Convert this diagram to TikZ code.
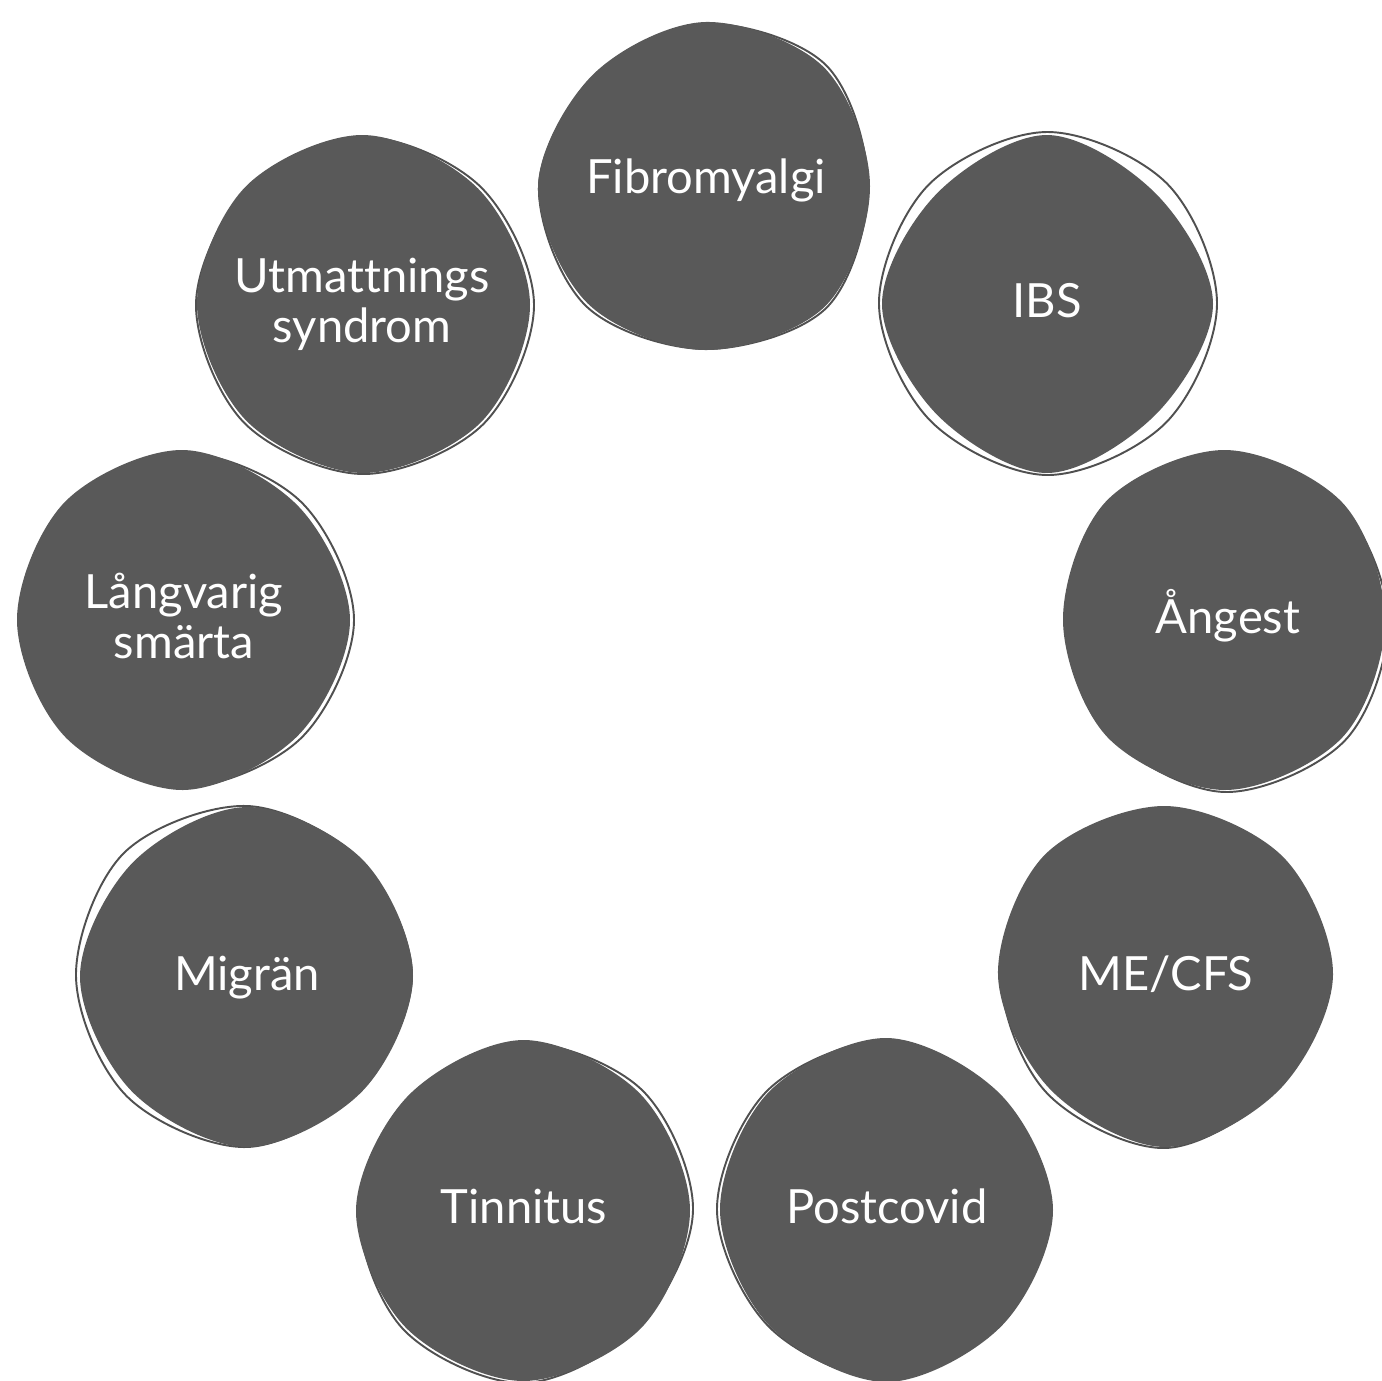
\documentclass[tikz,border=0pt]{standalone}
\usepackage{fontspec}
\setmainfont{Lato}[Ligatures=NoCommon]
\definecolor{blobgray}{HTML}{595959}
\definecolor{blobedge}{HTML}{505050}
\tikzset{
  blobfill/.style={fill=blobgray},
  blobline/.style={draw=blobedge, line width=0.55pt},
  blobtext/.style={text=white, font=\fontsize{13.4pt}{14.2pt}\selectfont,
    align=center, anchor=base, inner sep=0pt},
  rounded blob/.style={smooth cycle, tension=0.56},
}
\begin{document}
\begin{tikzpicture}[x=0.01cm,y=-0.01cm]
\useasboundingbox (0,0) rectangle (1381,1381);

% Fibromyalgi
\begin{scope}[shift={(705,186)}]
  \draw[blobline] plot[rounded blob] coordinates {(0:163) (45:172) (90:163) (135:169) (180:166) (225:156) (270:162) (315:171)};
  \fill[blobfill] plot[rounded blob] coordinates {(0:165) (45:170) (90:164) (135:166) (180:167) (225:158) (270:164) (315:168)};
\end{scope}
% IBS
\begin{scope}[shift={(1047,304)}]
  \draw[blobline] plot[rounded blob] coordinates {(0:170) (45:168) (90:171) (135:165) (180:168) (225:168) (270:172) (315:170)};
  \fill[blobfill] plot[rounded blob] coordinates {(0:166) (45:155) (90:169) (135:156) (180:165) (225:156) (270:169) (315:155)};
\end{scope}
% Angest
\begin{scope}[shift={(1225,620)}]
  \draw[blobline] plot[rounded blob] coordinates {(0:163) (45:170) (90:172) (135:163) (180:159) (225:165) (270:167) (315:163)};
  \fill[blobfill] plot[rounded blob] coordinates {(0:160) (45:166) (90:170) (135:166) (180:162) (225:168) (270:170) (315:166)};
\end{scope}
% ME/CFS
\begin{scope}[shift={(1165,975)}]
  \draw[blobline] plot[rounded blob] coordinates {(0:165) (45:159) (90:173) (135:167) (180:164) (225:167) (270:166) (315:164)};
  \fill[blobfill] plot[rounded blob] coordinates {(0:168) (45:162) (90:172) (135:162) (180:167) (225:170) (270:169) (315:167)};
\end{scope}
% Postcovid
\begin{scope}[shift={(887,1210)}]
  \draw[blobline] plot[rounded blob] coordinates {(0:163) (45:160) (90:169) (135:166) (180:170) (225:169) (270:169) (315:159)};
  \fill[blobfill] plot[rounded blob] coordinates {(0:166) (45:163) (90:172) (135:165) (180:167) (225:167) (270:172) (315:162)};
\end{scope}
% Tinnitus
\begin{scope}[shift={(523,1210)}]
  \draw[blobline] plot[rounded blob] coordinates {(0:170) (45:164) (90:173) (135:169) (180:164) (225:160) (270:167) (315:169)};
  \fill[blobfill] plot[rounded blob] coordinates {(0:167) (45:167) (90:171) (135:166) (180:167) (225:162) (270:170) (315:165)};
\end{scope}
% Migran
\begin{scope}[shift={(247,976)}]
  \draw[blobline] plot[rounded blob] coordinates {(0:165) (45:160) (90:171) (135:170) (180:171) (225:174) (270:170) (315:162)};
  \fill[blobfill] plot[rounded blob] coordinates {(0:166) (45:163) (90:171) (135:163) (180:167) (225:161) (270:169) (315:164)};
\end{scope}
% Langvarig smarta
\begin{scope}[shift={(183,620)}]
  \draw[blobline] plot[rounded blob] coordinates {(0:171) (45:167) (90:167) (135:163) (180:163) (225:164) (270:167) (315:167)};
  \fill[blobfill] plot[rounded blob] coordinates {(0:167) (45:163) (90:170) (135:166) (180:166) (225:167) (270:170) (315:162)};
\end{scope}
% Utmattningssyndrom
\begin{scope}[shift={(363,304)}]
  \draw[blobline] plot[rounded blob] coordinates {(0:171) (45:170) (90:170) (135:168) (180:167) (225:163) (270:167) (315:166)};
  \fill[blobfill] plot[rounded blob] coordinates {(0:167) (45:167) (90:169) (135:165) (180:166) (225:166) (270:169) (315:163)};
\end{scope}

\node[blobtext] (fibro) at (706,193) {Fibromyalgi};
\node[blobtext] (ibs) at (1047,317) {IBS};
\node[blobtext] (angest) at (1228,633) {Ångest};
\node[blobtext] (mecfs) at (1166,990) {ME/CFS};
\node[blobtext] (postcovid) at (887,1223) {Postcovid};
\node[blobtext] (tinnitus) at (524,1223) {Tinnitus};
\node[blobtext] (migran) at (247,990) {Migrän};
\node[blobtext] (smarta) at (184,658) {Långvarig\\smärta};
\node[blobtext] (utmatt) at (362,342) {Utmattnings\\syndrom};
\end{tikzpicture}
\end{document}
